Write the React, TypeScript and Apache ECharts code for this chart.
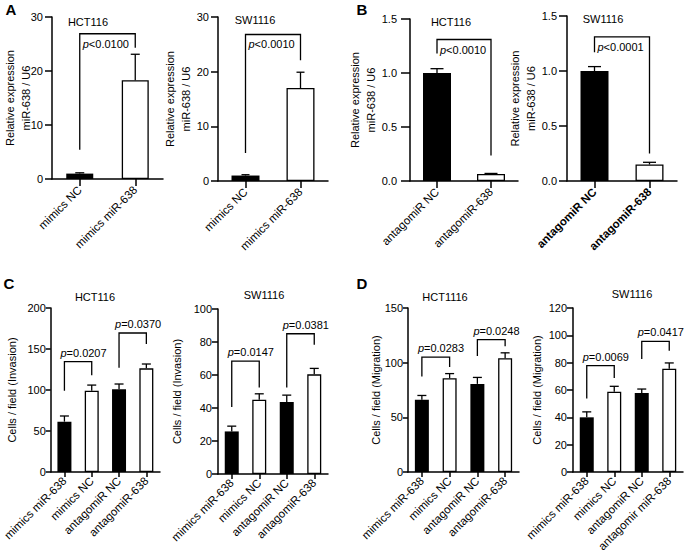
import React, { useEffect, useRef } from "react";
import * as echarts from "echarts";

const FONT = 'Arial, "Liberation Sans", Helvetica, sans-serif';

// ---------- categories ----------
const catsA = ["mimics NC", "mimics miR-638"];
const catsB = ["antagomiR NC", "antagomiR-638"];
const catsC = ["mimics miR-638", "mimics NC", "antagomiR NC", "antagomiR-638"];
const catsD2 = ["mimics miR-638", "mimics NC", "antagomiR NC", "antagomir miR-638"];

// ---------- fills (black = control, white = treated) ----------
const fillsAB = ["black", "white"];
const fillsCD = ["black", "white", "black", "white"];

// ---------- values (mean, mean + SD) ----------
const a1Mean = [1.0, 18.3];
const a1Upper = [1.15, 23.1];
const a2Mean = [1.0, 17.0];
const a2Upper = [1.15, 19.9];
const b1Mean = [1.0, 0.065];
const b1Upper = [1.04, 0.07];
const b2Mean = [1.0, 0.15];
const b2Upper = [1.04, 0.17];
const c1Mean = [61.4, 99.2, 100.8, 126.4];
const c1Upper = [68.3, 106.0, 107.3, 131.7];
const c2Mean = [25.8, 45.0, 43.7, 60.4];
const c2Upper = [29.0, 48.6, 47.8, 64.0];
const d1Mean = [66.0, 85.8, 80.6, 104.0];
const d1Upper = [70.0, 90.0, 86.5, 109.0];
const d2Mean = [40.0, 58.8, 57.8, 75.6];
const d2Upper = [44.0, 62.7, 60.7, 79.8];

// ---------- significance brackets: [leftCat, rightCat, top, leftLegEnd, rightLegEnd] ----------
const a1Brackets = [[0, 1, 26.9, 5.4, 24.3]];
const a1P = ["<0.0100"];
const a2Brackets = [[0, 1, 26.8, 5.1, 22.1]];
const a2P = ["<0.0010"];
const b1Brackets = [[0, 1, 1.31, 1.18, 0.235]];
const b1P = ["<0.0010"];
const b2Brackets = [[0, 1, 1.31, 1.17, 0.25]];
const b2P = ["<0.0001"];
const c1Brackets = [[0, 1, 134.5, 99.2, 118], [2, 3, 169.5, 127, 156]];
const c1P = ["=0.0207", "=0.0370"];
const c2Brackets = [[0, 1, 68.4, 40.6, 52.4], [2, 3, 85, 52.4, 78.4]];
const c2P = ["=0.0147", "=0.0381"];
const d1Brackets = [[0, 1, 105, 87.4, 96], [2, 3, 121, 106, 115]];
const d1P = ["=0.0283", "=0.0248"];
const d2Brackets = [[0, 1, 77.8, 53.7, 68.8], [2, 3, 95.6, 82.7, 88.8]];
const d2P = ["=0.0069", "=0.0417"];

// ---------- axis names ----------
const yRelExprAB = "Relative expression\nmiR-638 / U6";
const yInvasion = "Cells / field (Invasion)";
const yMigration = "Cells / field (Migration)";

// ---------- titles ----------
const titles = ["HCT116", "SW1116", "HCT116", "SW1116", "HCT116", "SW1116", "HCT1116", "SW1116"];
const letters = ["A", "B", "C", "D"];

type Panel = {
  cats: string[];
  mean: number[];
  upper: number[];
  fills: string[];
  brackets: number[][];
  pLabels: string[];
  max: number;
  interval: number;
  decimals: number;
  yName: string;
  left: number;
  top: number;
  width: number;
  height: number;
  nameGap: number;
  barWidth: number;
  cap: number;
  labelInside: boolean;
  yTick: number;
  yMargin: number;
  xTick: number;
  xMargin: number;
  boldX?: boolean;
};

const panels: Panel[] = [
  { cats: catsA, mean: a1Mean, upper: a1Upper, fills: fillsAB, brackets: a1Brackets, pLabels: a1P, max: 30, interval: 10, decimals: 0, yName: yRelExprAB,
    left: 52, top: 17, width: 111, height: 162, nameGap: 18, barWidth: 27, cap: 9, labelInside: true, yTick: 7, yMargin: 9, xTick: 7, xMargin: 9 },
  { cats: catsA, mean: a2Mean, upper: a2Upper, fills: fillsAB, brackets: a2Brackets, pLabels: a2P, max: 30, interval: 10, decimals: 0, yName: yRelExprAB,
    left: 218, top: 17, width: 110, height: 164, nameGap: 24, barWidth: 28, cap: 8, labelInside: true, yTick: 7, yMargin: 9, xTick: 7, xMargin: 9 },
  { cats: catsB, mean: b1Mean, upper: b1Upper, fills: fillsAB, brackets: b1Brackets, pLabels: b1P, max: 1.5, interval: 0.5, decimals: 1, yName: yRelExprAB,
    left: 410, top: 19, width: 108, height: 162, nameGap: 31, barWidth: 28, cap: 13, labelInside: true, yTick: 9, yMargin: 13, xTick: 7, xMargin: 9 },
  { cats: catsB, mean: b2Mean, upper: b2Upper, fills: fillsAB, brackets: b2Brackets, pLabels: b2P, max: 1.5, interval: 0.5, decimals: 1, yName: yRelExprAB,
    left: 567, top: 16, width: 110, height: 165, nameGap: 28, barWidth: 28, cap: 13, labelInside: true, boldX: true, yTick: 8, yMargin: 10, xTick: 7, xMargin: 9 },
  { cats: catsC, mean: c1Mean, upper: c1Upper, fills: fillsCD, brackets: c1Brackets, pLabels: c1P, max: 200, interval: 50, decimals: 0, yName: yInvasion,
    left: 49, top: 308, width: 111, height: 164, nameGap: 31, barWidth: 14, cap: 9, labelInside: false, yTick: 5, yMargin: 5, xTick: 5, xMargin: 7 },
  { cats: catsC, mean: c2Mean, upper: c2Upper, fills: fillsCD, brackets: c2Brackets, pLabels: c2P, max: 100, interval: 20, decimals: 0, yName: yInvasion,
    left: 218, top: 309, width: 110, height: 165, nameGap: 33, barWidth: 14, cap: 9, labelInside: false, yTick: 6, yMargin: 6, xTick: 5, xMargin: 7 },
  { cats: catsC, mean: d1Mean, upper: d1Upper, fills: fillsCD, brackets: d1Brackets, pLabels: d1P, max: 150, interval: 50, decimals: 0, yName: yMigration,
    left: 408, top: 308, width: 111, height: 164, nameGap: 24, barWidth: 14, cap: 9, labelInside: false, yTick: 5, yMargin: 5, xTick: 5, xMargin: 7 },
  { cats: catsD2, mean: d2Mean, upper: d2Upper, fills: fillsCD, brackets: d2Brackets, pLabels: d2P, max: 120, interval: 20, decimals: 0, yName: yMigration,
    left: 573, top: 308, width: 110, height: 164, nameGap: 28, barWidth: 14, cap: 9, labelInside: false, yTick: 6, yMargin: 6, xTick: 5, xMargin: 7 },
];

const titlePos = [
  [88, 22], [255, 20], [451, 22], [603, 19],
  [95, 297], [264, 295], [445, 297], [632, 294],
];
const letterPos = [[11, 9], [362, 9], [9, 283], [362, 283]];

const LW = 1.5;
const BW = 1.3;

function buildOption() {
  const grid: any[] = [];
  const xAxis: any[] = [];
  const yAxis: any[] = [];
  const series: any[] = [];

  panels.forEach((p, i) => {
    grid.push({ left: p.left, top: p.top, width: p.width, height: p.height, containLabel: false });
    xAxis.push({
      type: "category",
      gridIndex: i,
      data: p.cats,
      axisLine: { show: true, lineStyle: { color: "#000", width: LW } },
      axisTick: { show: true, alignWithLabel: true, length: p.xTick, lineStyle: { color: "#000", width: LW } },
      axisLabel: {
        rotate: 45, interval: 0, fontSize: 11.5, color: "#000", fontFamily: FONT, margin: p.xMargin,
        fontWeight: p.boldX ? "bold" : "normal",
      },
      splitLine: { show: false },
    });
    yAxis.push({
      type: "value",
      gridIndex: i,
      min: 0,
      max: p.max,
      interval: p.interval,
      axisLine: { show: true, lineStyle: { color: "#000", width: LW } },
      axisTick: { show: true, length: p.yTick, lineStyle: { color: "#000", width: LW } },
      splitLine: { show: false },
      axisLabel: {
        fontSize: 11, color: "#000", fontFamily: FONT, margin: p.yMargin,
        formatter: (v: number) => v.toFixed(p.decimals),
      },
      name: p.yName,
      nameLocation: "middle",
      nameGap: p.nameGap,
      nameMoveOverlap: false,
      nameTextStyle: { fontSize: 11, color: "#000", fontFamily: FONT, lineHeight: 16 },
    });

    series.push({
      type: "bar",
      xAxisIndex: i,
      yAxisIndex: i,
      barWidth: p.barWidth,
      data: p.mean.map((v, j) => ({
        value: v,
        itemStyle:
          p.fills[j] === "black"
            ? { color: "#000" }
            : { color: "#fff", borderColor: "#000", borderWidth: BW },
      })),
    });

    const cap = p.cap;
    series.push({
      type: "custom",
      xAxisIndex: i,
      yAxisIndex: i,
      z: 3,
      data: p.mean.map((v, j) => [j, v, p.upper[j]]),
      renderItem: (_params: any, api: any) => {
        const x = api.value(0);
        const p0 = api.coord([x, api.value(1)]);
        const p1 = api.coord([x, api.value(2)]);
        return {
          type: "group",
          children: [
            { type: "line", shape: { x1: p0[0], y1: p0[1], x2: p1[0], y2: p1[1] }, style: { stroke: "#000", lineWidth: BW } },
            { type: "line", shape: { x1: p1[0] - cap / 2, y1: p1[1], x2: p1[0] + cap / 2, y2: p1[1] }, style: { stroke: "#000", lineWidth: BW } },
          ],
        };
      },
    });

    const labels = p.pLabels;
    const inside = p.labelInside;
    series.push({
      type: "custom",
      xAxisIndex: i,
      yAxisIndex: i,
      z: 4,
      data: p.brackets,
      renderItem: (params: any, api: any) => {
        const a = api.value(0);
        const b = api.value(1);
        const top = api.value(2);
        const lb = api.value(3);
        const rb = api.value(4);
        const pL = api.coord([a, lb]);
        const pT = api.coord([a, top]);
        const pR = api.coord([b, rb]);
        const label = labels[params.dataIndex];
        return {
          type: "group",
          children: [
            {
              type: "polyline",
              shape: { points: [[pL[0], pL[1]], [pL[0], pT[1]], [pR[0], pT[1]], [pR[0], pR[1]]] },
              style: { stroke: "#000", lineWidth: BW, fill: null },
            },
            {
              type: "text",
              x: inside ? pL[0] + 3 : pL[0] - 4,
              y: inside ? pT[1] + 10 : pT[1] - 9,
              style: {
                text: "{i|p}{n|" + label + "}",
                align: "left",
                verticalAlign: "middle",
                fill: "#000",
                rich: {
                  i: { fontStyle: "italic", fontSize: 11, fontFamily: FONT, fill: "#000" },
                  n: { fontSize: 11, fontFamily: FONT, fill: "#000" },
                },
              },
            },
          ],
        };
      },
    });
  });

  const graphic: any[] = [];
  titles.forEach((t, i) => {
    graphic.push({
      type: "text",
      x: titlePos[i][0],
      y: titlePos[i][1],
      style: { text: t, fontSize: 11, fontFamily: FONT, fill: "#000", align: "center", verticalAlign: "middle" },
    });
  });
  letters.forEach((t, i) => {
    graphic.push({
      type: "text",
      x: letterPos[i][0],
      y: letterPos[i][1],
      style: { text: t, fontSize: 15, fontWeight: "bold", fontFamily: FONT, fill: "#000", align: "center", verticalAlign: "middle" },
    });
  });

  return {
    animation: false,
    backgroundColor: "#fff",
    grid,
    xAxis,
    yAxis,
    series,
    graphic,
  };
}

export default function App() {
  const ref = useRef<HTMLDivElement>(null);
  useEffect(() => {
    if (!ref.current) return;
    const chart = echarts.init(ref.current, undefined, { renderer: "svg" });
    chart.setOption(buildOption() as any);
    return () => chart.dispose();
  }, []);
  return (
    <div
      ref={ref}
      style={{ position: "fixed", left: 0, top: 0, width: 685, height: 556, background: "#fff" }}
    />
  );
}
